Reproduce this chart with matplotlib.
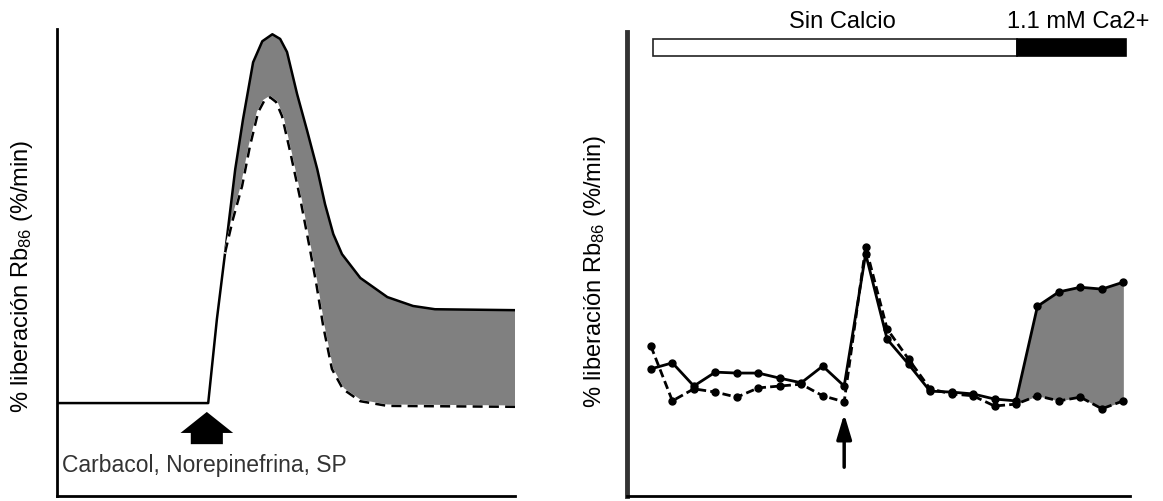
import matplotlib
matplotlib.use('Agg')
import matplotlib.pyplot as plt
from matplotlib.patches import FancyArrow, Rectangle

plt.rcParams['font.family'] = ['Liberation Sans', 'DejaVu Sans']
plt.rcParams['mathtext.fontset'] = 'custom'
plt.rcParams['mathtext.rm'] = 'Liberation Sans'
plt.rcParams['mathtext.it'] = 'Liberation Sans'

GRAY = '#808080'

# left panel: schematic response (arbitrary units, 0-100)
sch_solid_x = [0, 33.0, 34.9, 36.7, 38.9, 40.6, 42.8, 44.8, 47.0, 48.7, 50.2, 52.4,
               54.6, 56.8, 58.5, 60.3, 62.2, 66.2, 72.1, 77.7, 82.5, 100]
sch_solid_y = [19.9, 19.9, 37.9, 52.2, 70.0, 80.7, 92.9, 97.4, 98.9, 97.9, 95.1, 86.1,
               78.2, 70.0, 62.5, 56.1, 51.8, 46.7, 42.6, 40.7, 40.0, 39.8]
sch_dash_x = [36.7, 38.4, 40.4, 42.1, 43.9, 45.2, 46.5, 47.8, 49.1, 50.9, 53.1, 55.2,
              56.6, 58.1, 60.0, 62.4, 66.2, 72.1, 100]
sch_dash_y = [52.2, 59.3, 66.4, 74.9, 82.2, 84.6, 85.4, 84.4, 81.4, 73.7, 63.6, 52.9,
              45.4, 36.4, 27.2, 22.9, 20.3, 19.3, 19.1]
stim_x = 32.7
stim_label = 'Carbacol, Norepinefrina, SP'

# right panel: Rb86 release per fraction
fraction = list(range(23))
ctrl_ca = [27.4, 28.7, 23.7, 26.7, 26.5, 26.5, 25.4, 24.4, 28.0, 23.7, 52.2, 33.8,
           28.4, 22.6, 22.4, 22.0, 20.9, 20.5, 40.9, 44.0, 45.0, 44.6, 46.1]
treat = [32.3, 20.5, 23.1, 22.4, 21.3, 23.3, 23.7, 24.1, 21.6, 20.3, 53.7, 36.0,
         29.5, 23.1, 22.0, 21.6, 19.4, 19.8, 21.6, 20.5, 21.3, 18.8, 20.5]
ca_start = 17
stim_fraction = 9
ylab = '% liberación Rb$_{86}$ (%/min)'

fig = plt.figure(figsize=(11.63, 5.02), dpi=100)

# ---- left panel ----
ax1 = fig.add_axes([0.049, 0.010, 0.394, 0.930])
ax1.set_xlim(0, 100)
ax1.set_ylim(0, 100)
fill_x = sch_solid_x[3:] + sch_dash_x[::-1]
fill_y = sch_solid_y[3:] + sch_dash_y[::-1]
ax1.fill(fill_x, fill_y, color=GRAY, lw=0)
ax1.plot(sch_solid_x, sch_solid_y, color='black', lw=1.8)
ax1.plot(sch_dash_x, sch_dash_y, color='white', lw=2.0)
ax1.plot(sch_dash_x, sch_dash_y, color='black', lw=1.8, ls=(0, (4, 2.5)))
ax1.add_patch(FancyArrow(stim_x, 11.1, 0, 6.9, width=7.0, head_width=11.5,
                         head_length=4.5, length_includes_head=True,
                         color='black', lw=0))
ax1.text(1.2, 6.8, stim_label, fontsize=16.5, color='#333333', va='center', ha='left')

# ---- right panel ----
ax2 = fig.add_axes([0.539, 0.010, 0.433, 0.924])
ax2.set_xlim(-1.12, 22.33)
ax2.set_ylim(0, 100)
ax2.fill_between(fraction[ca_start:], treat[ca_start:], ctrl_ca[ca_start:],
                 color=GRAY, lw=0)
ax2.plot(fraction, ctrl_ca, color='black', lw=2, marker='o', ms=5)
ax2.plot(fraction, treat, color='black', lw=2, ls=(0, (3, 1.5)), marker='o', ms=5)
ax2.annotate('', xy=(stim_fraction, 17.7), xytext=(stim_fraction, 6.2),
             arrowprops=dict(arrowstyle='-|>,head_length=1.5,head_width=0.45',
                             color='black', lw=2.5, shrinkA=0, shrinkB=0))
ax2.add_patch(Rectangle((0.09, 94.8), ca_start + 0.06 - 0.09, 3.7,
                        facecolor='white', edgecolor='#222222', lw=1.2, clip_on=False))
ax2.add_patch(Rectangle((ca_start + 0.06, 94.8), 22.14 - ca_start - 0.06, 3.7,
                        facecolor='black', edgecolor='black', lw=1.2, clip_on=False))
ax2.text(8.9, 102.5, 'Sin Calcio', fontsize=17, ha='center', va='center', clip_on=False)
ax2.text(19.9, 102.5, '1.1 mM Ca2+', fontsize=17, ha='center', va='center', clip_on=False)

for ax in (ax1, ax2):
    for side in ('top', 'right'):
        ax.spines[side].set_visible(False)
    ax.spines['bottom'].set_linewidth(2)
    ax.spines['left'].set_linewidth(2)
    ax.set_xticks([])
    ax.set_yticks([])
ax2.spines['left'].set_linewidth(3.5)
ax2.spines['left'].set_color('#333333')

fig.text(0.019, 0.45, ylab, rotation=90, fontsize=17, ha='center', va='center')
fig.text(0.512, 0.46, ylab, rotation=90, fontsize=17, ha='center', va='center')

fig.savefig('out.png', dpi=100)
